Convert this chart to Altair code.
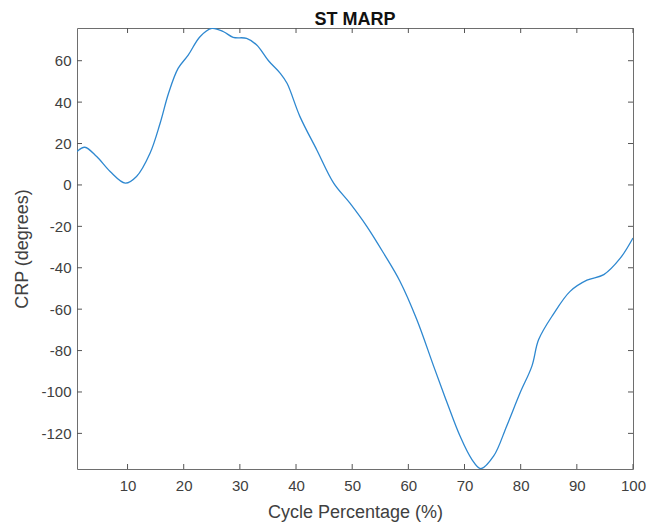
import altair as alt
import pandas as pd

# Traced curve (Cycle Percentage vs CRP in degrees)
cycle_pct = [1, 2.4, 4.5, 6.9, 9.6, 11.6, 14.0, 15.8, 17.3, 19.0, 20.8, 22.9, 25.0,
             27.1, 28.8, 31.2, 33.0, 35.1, 37.2, 38.4, 40.7, 43.7, 46.7, 49.6, 52.6,
             55.6, 58.5, 61.5, 64.5, 66.9, 69.2, 71.3, 72.9, 75.2, 77.5, 79.9, 82.0,
             83.2, 85.8, 88.8, 91.8, 94.8, 97.7, 100]
crp_deg = [16.1, 18.2, 13.7, 6.5, 0.9, 4.1, 15.3, 29.8, 44.3, 56.3, 62.7, 71.6, 75.6,
           74.0, 71.3, 70.8, 67.6, 60.0, 53.9, 49.1, 33.0, 16.9, 0.9, -8.8, -20.0,
           -33.0, -46.5, -65.0, -87.5, -105.2, -121.3, -132.5, -137.0, -130.9, -116.5,
           -100.4, -87.5, -74.7, -62.5, -51.4, -46.0, -43.3, -35.5, -25.6]

x_ticks = [10, 20, 30, 40, 50, 60, 70, 80, 90, 100]
y_ticks = [-120, -100, -80, -60, -40, -20, 0, 20, 40, 60]

W, H = 556, 441
FONT = "Liberation Sans"
TXT = "#404040"

df = pd.DataFrame({"x": cycle_pct, "y": crp_deg})
dfx = pd.DataFrame({"x": x_ticks})
dfy = pd.DataFrame({"y": y_ticks})

xscale = alt.Scale(domain=[1, 100], nice=False, zero=False)
yscale = alt.Scale(domain=[-137.2, 75.8], nice=False, zero=False)

xaxis = alt.Axis(values=x_ticks, grid=False, domain=False, ticks=False, tickSize=0,
                 labelPadding=9, labelFontSize=15, labelColor=TXT, labelFont=FONT,
                 labelFlush=False, labelExpr="'' + datum.value",
                 titleFont=FONT, titleFontSize=18, titleFontWeight="normal", titleColor=TXT,
                 titleBaseline="alphabetic", titleY=48)
yaxis = alt.Axis(values=y_ticks, grid=False, domain=False, ticks=False, tickSize=0,
                 labelPadding=6, labelFontSize=15, labelColor=TXT, labelFont=FONT,
                 labelFlush=False, labelExpr="'' + datum.value",
                 titleFont=FONT, titleFontSize=18, titleFontWeight="normal", titleColor=TXT,
                 titleBaseline="alphabetic", titleX=-50)

xenc = alt.X("x:Q", scale=xscale, title="Cycle Percentage (%)", axis=xaxis)
yenc = alt.Y("y:Q", scale=yscale, title="CRP (degrees)", axis=yaxis)

line = alt.Chart(df).mark_line(color="#2E88D0", strokeWidth=1.3, interpolate="catmull-rom",
                               clip=True).encode(x=xenc, y=yenc)

tick_color = "#555555"
bottom_ticks = alt.Chart(dfx).mark_rule(color=tick_color, strokeWidth=1).encode(
    x=xenc, y=alt.value(H), y2=alt.value(H - 5))
top_ticks = alt.Chart(dfx).mark_rule(color=tick_color, strokeWidth=1).encode(
    x=xenc, y=alt.value(0), y2=alt.value(5))
left_ticks = alt.Chart(dfy).mark_rule(color=tick_color, strokeWidth=1).encode(
    y=yenc, x=alt.value(0), x2=alt.value(5))
right_ticks = alt.Chart(dfy).mark_rule(color=tick_color, strokeWidth=1).encode(
    y=yenc, x=alt.value(W), x2=alt.value(W - 5))

chart = alt.layer(line, bottom_ticks, top_ticks, left_ticks, right_ticks).properties(
    width=W, height=H,
    title=alt.TitleParams("ST MARP", font=FONT, fontSize=18, fontWeight="bold", color="#111111",
                          anchor="middle", baseline="bottom", offset=3, dy=22),
    autosize=alt.AutoSizeParams(type="none"),
    padding={"left": 77, "top": 28, "right": 16, "bottom": 55},
    background="white",
).configure_view(stroke="#6e6e6e", strokeWidth=1)

chart.save("out.html", embed_options={"renderer": "svg", "actions": False})
